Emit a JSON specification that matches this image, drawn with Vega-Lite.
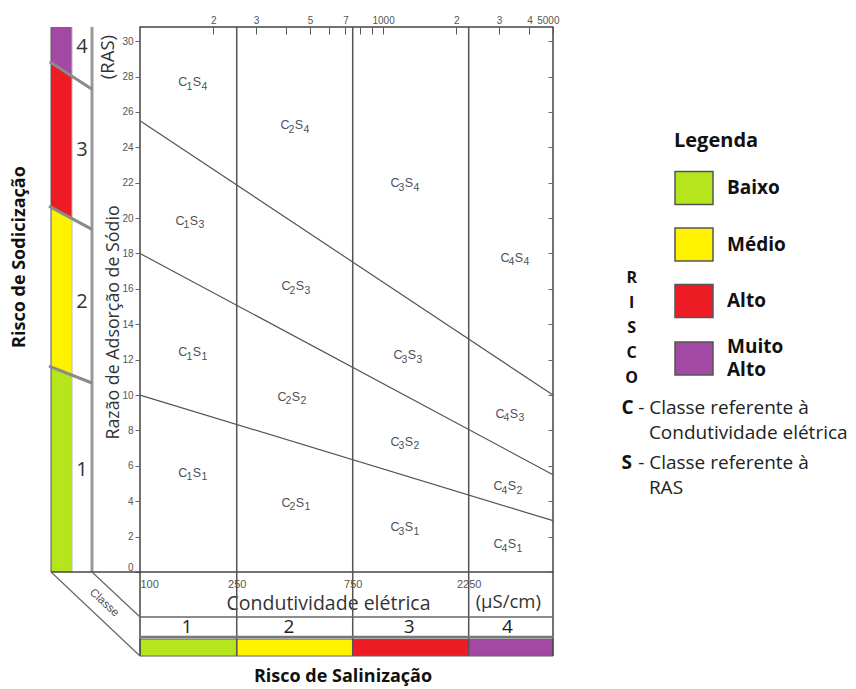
{
  "$schema": "https://vega.github.io/schema/vega-lite/v6.json",
  "width": 413,
  "height": 545,
  "autosize": {"type": "none"},
  "padding": {"left": 140, "top": 27, "right": 303, "bottom": 117},
  "background": "white",
  "config": {
    "view": {"stroke": "#444", "strokeWidth": 1.5},
    "axis": {"grid": false},
    "style": {"guide-label": {"lineHeight": 23}}
  },
  "resolve": {"axis": {"x": "independent", "y": "independent"}},
  "datasets": {
    "coluna_sodio": [
      {"ec": 43.05, "base": 0, "topo": 11.59, "risco": "Baixo"},
      {"ec": 52.53, "base": 0, "topo": 11.13, "risco": "Baixo"},
      {"ec": 43.05, "base": 11.59, "topo": 20.63, "risco": "Médio"},
      {"ec": 52.53, "base": 11.13, "topo": 19.97, "risco": "Médio"},
      {"ec": 43.05, "base": 20.63, "topo": 28.78, "risco": "Alto"},
      {"ec": 52.53, "base": 19.97, "topo": 28.0, "risco": "Alto"},
      {"ec": 43.05, "base": 28.78, "topo": 30.8, "risco": "Muito Alto"},
      {"ec": 52.53, "base": 28.0, "topo": 30.8, "risco": "Muito Alto"}
    ],
    "divisas_coluna": [
      {"divisa": "1-2", "ec": 42.24, "ras": 11.64},
      {"divisa": "1-2", "ec": 63.47, "ras": 10.68},
      {"divisa": "2-3", "ec": 42.24, "ras": 20.68},
      {"divisa": "2-3", "ec": 63.47, "ras": 19.36},
      {"divisa": "3-4", "ec": 42.5, "ras": 28.84},
      {"divisa": "3-4", "ec": 63.47, "ras": 27.28}
    ],
    "classes_sodio": [
      {"classe": "1", "ras": 5.76},
      {"classe": "2", "ras": 15.26},
      {"classe": "3", "ras": 23.85},
      {"classe": "4", "ras": 29.67}
    ],
    "faixa_sal": [
      {"classe": "1", "ec_ini": 100, "ec_fim": 250, "ec_meio": 156, "risco": "Baixo"},
      {"classe": "2", "ec_ini": 250, "ec_fim": 750, "ec_meio": 410, "risco": "Médio"},
      {"classe": "3", "ec_ini": 750, "ec_fim": 2250, "ec_meio": 1280, "risco": "Alto"},
      {"classe": "4", "ec_ini": 2250, "ec_fim": 5000, "ec_meio": 3250, "risco": "Muito Alto"}
    ],
    "limites_ce": [{"ec": 250}, {"ec": 750}, {"ec": 2250}],
    "bordas_ce": [{"ec": 100}, {"ec": 5000}],
    "limites_ras": [
      {"limite": "S1/S2", "ec": 100, "ras": 10},
      {"limite": "S1/S2", "ec": 5000, "ras": 2.9},
      {"limite": "S2/S3", "ec": 100, "ras": 18},
      {"limite": "S2/S3", "ec": 5000, "ras": 5.5},
      {"limite": "S3/S4", "ec": 100, "ras": 25.5},
      {"limite": "S3/S4", "ec": 5000, "ras": 10}
    ],
    "zonas": [
      {"ce": "1", "sodio": "4", "ec": 165, "ras": 27.69},
      {"ce": "2", "sodio": "4", "ec": 434, "ras": 25.26},
      {"ce": "3", "sodio": "4", "ec": 1230, "ras": 21.98},
      {"ce": "4", "sodio": "4", "ec": 3488, "ras": 17.75},
      {"ce": "1", "sodio": "3", "ec": 160.6, "ras": 19.84},
      {"ce": "2", "sodio": "3", "ec": 438, "ras": 16.16},
      {"ce": "3", "sodio": "3", "ec": 1266, "ras": 12.26},
      {"ce": "4", "sodio": "3", "ec": 3327, "ras": 8.93},
      {"ce": "1", "sodio": "1", "ec": 165, "ras": 12.43},
      {"ce": "2", "sodio": "2", "ec": 422, "ras": 9.89},
      {"ce": "3", "sodio": "2", "ec": 1230, "ras": 7.35},
      {"ce": "4", "sodio": "2", "ec": 3265, "ras": 4.86},
      {"ce": "1", "sodio": "1", "ec": 165, "ras": 5.6},
      {"ce": "2", "sodio": "1", "ec": 438, "ras": 3.9},
      {"ce": "3", "sodio": "1", "ec": 1230, "ras": 2.54},
      {"ce": "4", "sodio": "1", "ec": 3265, "ras": 1.58}
    ],
    "vazio": [{}]
  },
  "layer": [
    {
      "data": {"name": "coluna_sodio"},
      "mark": {"type": "area", "interpolate": "linear"},
      "encoding": {
        "x": {"field": "ec", "type": "quantitative", "scale": {"type": "log", "domain": [100, 5000], "nice": false}, "axis": null},
        "y": {"field": "topo", "type": "quantitative", "stack": null, "scale": {"domain": [0, 30.8], "nice": false, "zero": false}, "axis": null},
        "y2": {"field": "base"},
        "color": {
          "field": "risco", "type": "nominal",
          "scale": {"domain": ["Baixo", "Médio", "Alto", "Muito Alto"], "range": ["#b5e61d", "#fff200", "#ed1c24", "#a349a4"]}
        }
      }
    },
    {
      "data": {"name": "faixa_sal"},
      "mark": {"type": "rect", "stroke": "#666", "strokeWidth": 1},
      "encoding": {
        "x": {"field": "ec_ini", "type": "quantitative", "axis": null},
        "x2": {"field": "ec_fim"},
        "y": {"datum": -3.79, "axis": null},
        "y2": {"datum": -4.75},
        "color": {
          "field": "risco", "type": "nominal",
          "legend": {
            "title": "Legenda",
            "orient": "none",
            "legendX": 534,
            "legendY": 104,
            "direction": "vertical",
            "padding": 0,
            "symbolType": "M-1,-0.87H1V0.87H-1Z",
            "symbolSize": 1444,
            "symbolStrokeColor": "#555",
            "symbolStrokeWidth": 1.5,
            "symbolOpacity": 1,
            "rowPadding": 16.5,
            "labelOffset": 13,
            "labelFont": "Open Sans",
            "labelFontSize": 19,
            "labelFontWeight": "bold",
            "labelColor": "#111",
            "labelLimit": 200,
            "labelExpr": "datum.label == 'Muito Alto' ? ['Muito', 'Alto'] : datum.label",
            "titleFont": "Open Sans",
            "titleFontSize": 20,
            "titleFontWeight": "bold",
            "titleColor": "#111",
            "titlePadding": 17,
            "encoding": {
              "labels": {
                "dy": {"condition": {"test": "datum.value == 'Muito Alto'", "value": -11.5}, "value": 0}
              }
            }
          }
        }
      }
    },
    {
      "data": {"name": "limites_ce"},
      "mark": {"type": "rule", "stroke": "#555", "strokeWidth": 1.5},
      "encoding": {
        "x": {"field": "ec", "type": "quantitative", "axis": null},
        "y": {"datum": 30.8, "axis": null},
        "y2": {"datum": -4.75}
      }
    },
    {
      "data": {"name": "bordas_ce"},
      "mark": {"type": "rule", "stroke": "#444", "strokeWidth": 1.5},
      "encoding": {
        "x": {"field": "ec", "type": "quantitative", "axis": null},
        "y": {"datum": 0, "axis": null},
        "y2": {"datum": -4.75}
      }
    },
    {
      "data": {"name": "vazio"},
      "mark": {"type": "rule", "stroke": "#666", "strokeWidth": 1.5},
      "encoding": {
        "x": {"datum": 100, "axis": null},
        "x2": {"datum": 5000},
        "y": {"datum": -2.54, "axis": null}
      }
    },
    {
      "data": {"name": "vazio"},
      "mark": {"type": "rule", "stroke": "#777", "strokeWidth": 2.5},
      "encoding": {
        "x": {"datum": 100, "axis": null},
        "x2": {"datum": 5000},
        "y": {"datum": -3.67, "axis": null}
      }
    },
    {
      "data": {"name": "vazio"},
      "mark": {"type": "rule", "stroke": "#555", "strokeWidth": 1},
      "encoding": {
        "x": {"datum": 43.05, "axis": null},
        "y": {"datum": 0, "axis": null},
        "y2": {"datum": 30.8}
      }
    },
    {
      "data": {"name": "vazio"},
      "mark": {"type": "rule", "stroke": "#bbb", "strokeWidth": 1},
      "encoding": {
        "x": {"datum": 52.53, "axis": null},
        "y": {"datum": 0, "axis": null},
        "y2": {"datum": 30.8}
      }
    },
    {
      "data": {"name": "vazio"},
      "mark": {"type": "rule", "stroke": "#999", "strokeWidth": 3},
      "encoding": {
        "x": {"datum": 63.47, "axis": null},
        "y": {"datum": 0, "axis": null},
        "y2": {"datum": 30.8}
      }
    },
    {
      "data": {"name": "vazio"},
      "mark": {"type": "rule", "stroke": "#444", "strokeWidth": 1.5},
      "encoding": {
        "x": {"datum": 43.05, "axis": null},
        "x2": {"datum": 100},
        "y": {"datum": 0, "axis": null}
      }
    },
    {
      "data": {"name": "vazio"},
      "mark": {"type": "rule", "stroke": "#666", "strokeWidth": 1.2},
      "encoding": {
        "x": {"datum": 43.05, "axis": null},
        "x2": {"datum": 100},
        "y": {"datum": 0, "axis": null},
        "y2": {"datum": -4.75}
      }
    },
    {
      "data": {"name": "vazio"},
      "mark": {"type": "rule", "stroke": "#666", "strokeWidth": 1.2},
      "encoding": {
        "x": {"datum": 63.47, "axis": null},
        "x2": {"datum": 100},
        "y": {"datum": 0, "axis": null},
        "y2": {"datum": -2.54}
      }
    },
    {
      "data": {"name": "divisas_coluna"},
      "mark": {"type": "line", "stroke": "#8a8a8a", "strokeWidth": 3},
      "encoding": {
        "x": {"field": "ec", "type": "quantitative", "axis": null},
        "y": {"field": "ras", "type": "quantitative", "axis": null},
        "detail": {"field": "divisa"}
      }
    },
    {
      "data": {"name": "limites_ras"},
      "mark": {"type": "line", "stroke": "#555", "strokeWidth": 1.2},
      "encoding": {
        "x": {
          "field": "ec", "type": "quantitative",
          "axis": {
            "orient": "bottom",
            "values": [100, 250, 750, 2250],
            "format": "d",
            "ticks": false,
            "domain": false,
            "labelPadding": 6,
            "labelFont": "Liberation Sans",
            "labelFontSize": 11,
            "labelColor": "#555",
            "labelFlush": true,
            "labelOverlap": false,
            "title": "Condutividade elétrica",
            "titleFont": "Open Sans",
            "titleFontSize": 19.5,
            "titleFontWeight": "normal",
            "titleColor": "#333",
            "titleX": 188,
            "titleY": 31,
            "titleAlign": "center",
            "titleBaseline": "middle"
          }
        },
        "y": {
          "field": "ras", "type": "quantitative",
          "axis": {
            "orient": "left",
            "values": [0, 2, 4, 6, 8, 10, 12, 14, 16, 18, 20, 22, 24, 26, 28, 30],
            "tickSize": 5,
            "tickColor": "#666",
            "domain": false,
            "labelPadding": 2,
            "labelFont": "Liberation Sans",
            "labelFontSize": 10,
            "labelColor": "#555",
            "labelFlush": true,
            "title": "Razão de Adsorção de Sódio",
            "titleFont": "Open Sans",
            "titleFontSize": 17.8,
            "titleFontWeight": "normal",
            "titleColor": "#333",
            "titleX": -27,
            "titleY": 295,
            "titleAngle": 270,
            "titleAlign": "center",
            "titleBaseline": "middle"
          }
        },
        "detail": {"field": "limite"}
      }
    },
    {
      "data": {"name": "zonas"},
      "mark": {"type": "text", "text": "C", "dx": -10, "font": "Liberation Sans", "fontSize": 12.5, "fill": "#4d4f5c", "align": "center", "baseline": "middle"},
      "encoding": {
        "x": {
          "field": "ec", "type": "quantitative",
          "axis": {
            "orient": "top",
            "values": [200, 300, 400, 500, 600, 700, 800, 900, 1000, 2000, 3000, 4000, 5000],
            "tickSize": -7,
            "tickColor": "#555",
            "domain": false,
            "labelPadding": 9,
            "labelFont": "Liberation Sans",
            "labelFontSize": 10,
            "labelColor": "#555",
            "labelOverlap": false,
            "labelOffset": {"condition": {"test": "datum.value == 5000", "value": 6}, "value": 0},
            "labelExpr": "datum.value == 1000 || datum.value == 5000 ? datum.value + '' : (datum.value == 400 || datum.value == 600 || datum.value == 800 || datum.value == 900 ? '' : (datum.value < 1000 ? datum.value / 100 : datum.value / 1000) + '')",
            "title": null
          }
        },
        "y": {
          "field": "ras", "type": "quantitative",
          "axis": {
            "orient": "right",
            "values": [0, 2, 4, 6, 8, 10, 12, 14, 16, 18, 20, 22, 24, 26, 28, 30],
            "tickSize": -5,
            "tickColor": "#666",
            "labels": false,
            "domain": false,
            "title": null
          }
        }
      }
    },
    {
      "data": {"name": "zonas"},
      "mark": {"type": "text", "dx": -3.5, "dy": 4.5, "font": "Liberation Sans", "fontSize": 10.5, "fill": "#4d4f5c", "align": "center", "baseline": "middle"},
      "encoding": {
        "x": {"field": "ec", "type": "quantitative", "axis": null},
        "y": {"field": "ras", "type": "quantitative", "axis": null},
        "text": {"field": "ce"}
      }
    },
    {
      "data": {"name": "zonas"},
      "mark": {"type": "text", "text": "S", "dx": 4, "font": "Liberation Sans", "fontSize": 12.5, "fill": "#4d4f5c", "align": "center", "baseline": "middle"},
      "encoding": {
        "x": {"field": "ec", "type": "quantitative", "axis": null},
        "y": {"field": "ras", "type": "quantitative", "axis": null}
      }
    },
    {
      "data": {"name": "zonas"},
      "mark": {"type": "text", "dx": 11.5, "dy": 4.5, "font": "Liberation Sans", "fontSize": 10.5, "fill": "#4d4f5c", "align": "center", "baseline": "middle"},
      "encoding": {
        "x": {"field": "ec", "type": "quantitative", "axis": null},
        "y": {"field": "ras", "type": "quantitative", "axis": null},
        "text": {"field": "sodio"}
      }
    },
    {
      "data": {"name": "classes_sodio"},
      "mark": {"type": "text", "font": "Open Sans", "fontSize": 20, "fill": "#333", "align": "center", "baseline": "middle"},
      "encoding": {
        "x": {"datum": 57.73, "axis": null},
        "y": {"field": "ras", "type": "quantitative", "axis": null},
        "text": {"field": "classe"}
      }
    },
    {
      "data": {"name": "faixa_sal"},
      "mark": {"type": "text", "font": "Open Sans", "fontSize": 19, "fill": "#222", "align": "center", "baseline": "middle"},
      "encoding": {
        "x": {"field": "ec_meio", "type": "quantitative", "axis": null},
        "y": {"datum": -3.11, "axis": null},
        "text": {"field": "classe"}
      }
    },
    {
      "data": {"name": "vazio"},
      "mark": {"type": "text", "text": "(µS/cm)", "font": "Open Sans", "fontSize": 18.5, "fill": "#333", "align": "center", "baseline": "middle"},
      "encoding": {"x": {"datum": 3273, "axis": null}, "y": {"datum": -1.7, "axis": null}}
    },
    {
      "data": {"name": "vazio"},
      "mark": {"type": "text", "text": "(RAS)", "font": "Open Sans", "fontSize": 18.5, "fill": "#333", "align": "center", "baseline": "middle", "angle": 270},
      "encoding": {"x": {"datum": 73.86, "axis": null}, "y": {"datum": 29.1, "axis": null}}
    },
    {
      "data": {"name": "vazio"},
      "mark": {"type": "text", "text": "Classe", "font": "Liberation Sans", "fontSize": 11.5, "fill": "#4d4f5c", "align": "center", "baseline": "middle", "angle": 43},
      "encoding": {"x": {"datum": 71.11, "axis": null}, "y": {"datum": -1.75, "axis": null}}
    },
    {
      "data": {"name": "vazio"},
      "mark": {"type": "text", "text": "Risco de Salinização", "font": "Open Sans", "fontSize": 18, "fontWeight": "bold", "fill": "#111", "align": "center", "baseline": "middle"},
      "encoding": {"x": {"datum": 684, "axis": null}, "y": {"datum": -5.96, "axis": null}}
    },
    {
      "data": {"name": "vazio"},
      "mark": {"type": "text", "text": "Risco de Sodicização", "font": "Open Sans", "fontSize": 18, "fontWeight": "bold", "fill": "#111", "align": "center", "baseline": "middle", "angle": 270},
      "encoding": {"x": {"datum": 32.09, "axis": null}, "y": {"datum": 17.8, "axis": null}}
    },
    {
      "data": {"name": "vazio"},
      "mark": {"type": "text", "text": "R\nI\nS\nC\nO", "lineBreak": "\n", "lineHeight": 25, "font": "Open Sans", "fontSize": 16, "fontWeight": "bold", "fill": "#111", "align": "center", "baseline": "middle"},
      "encoding": {"x": {"datum": 10535, "axis": null}, "y": {"datum": 16.64, "axis": null}}
    },
    {
      "data": {"name": "vazio"},
      "mark": {"type": "text", "text": "C", "font": "Open Sans", "fontSize": 19, "fontWeight": "bold", "fill": "#111", "align": "left", "baseline": "middle"},
      "encoding": {"x": {"datum": 9566, "axis": null}, "y": {"datum": 9.27, "axis": null}}
    },
    {
      "data": {"name": "vazio"},
      "mark": {"type": "text", "text": "- Classe referente à", "font": "Open Sans", "fontSize": 19, "fill": "#222", "align": "left", "baseline": "middle"},
      "encoding": {"x": {"datum": 11200, "axis": null}, "y": {"datum": 9.27, "axis": null}}
    },
    {
      "data": {"name": "vazio"},
      "mark": {"type": "text", "text": "Condutividade elétrica", "font": "Open Sans", "fontSize": 19, "fill": "#222", "align": "left", "baseline": "middle"},
      "encoding": {"x": {"datum": 12400, "axis": null}, "y": {"datum": 7.86, "axis": null}}
    },
    {
      "data": {"name": "vazio"},
      "mark": {"type": "text", "text": "S", "font": "Open Sans", "fontSize": 19, "fontWeight": "bold", "fill": "#111", "align": "left", "baseline": "middle"},
      "encoding": {"x": {"datum": 9566, "axis": null}, "y": {"datum": 6.16, "axis": null}}
    },
    {
      "data": {"name": "vazio"},
      "mark": {"type": "text", "text": "- Classe referente à", "font": "Open Sans", "fontSize": 19, "fill": "#222", "align": "left", "baseline": "middle"},
      "encoding": {"x": {"datum": 11200, "axis": null}, "y": {"datum": 6.16, "axis": null}}
    },
    {
      "data": {"name": "vazio"},
      "mark": {"type": "text", "text": "RAS", "font": "Open Sans", "fontSize": 19, "fill": "#222", "align": "left", "baseline": "middle"},
      "encoding": {"x": {"datum": 12400, "axis": null}, "y": {"datum": 4.75, "axis": null}}
    }
  ]
}
